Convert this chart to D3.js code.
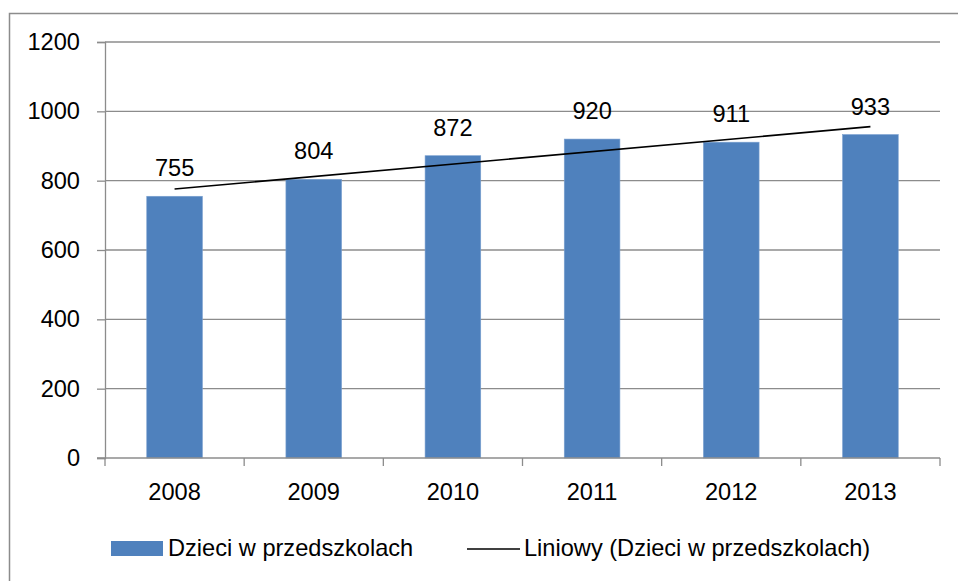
<!DOCTYPE html>
<html>
<head>
<meta charset="utf-8">
<script src="https://cdn.jsdelivr.net/npm/d3@7"></script>
<style>
  body { margin: 0; background: #fff; }
  text { font-family: "Liberation Sans", Arial, sans-serif; fill: #000; }
</style>
</head>
<body>
<svg id="chart" width="958" height="581"></svg>
<script>
// data
var years  = ["2008", "2009", "2010", "2011", "2012", "2013"];
var values = [755, 804, 872, 920, 911, 933];
var yTicks = [0, 200, 400, 600, 800, 1000, 1200];
var seriesName = "Dzieci w przedszkolach";
var trendName  = "Liniowy (Dzieci w przedszkolach)";

var svg = d3.select("#chart");
var plotL = 105, plotR = 940, plotT = 42, plotB = 458;
var gridCol = "#8c8c8c";
var fs = 23.6;

// outer frame (only top and left edges fall inside the picture)
svg.append("rect")
   .attr("x", 9.5).attr("y", 13.5)
   .attr("width", 960).attr("height", 600)
   .attr("fill", "none").attr("stroke", gridCol).attr("stroke-width", 1.5);

var x = d3.scaleBand().domain(years).range([plotL, plotR]).paddingInner(0.6).paddingOuter(0.3);
var y = d3.scaleLinear().domain([0, 1200]).range([plotB, plotT]);

// gridlines
svg.append("g").selectAll("line").data(yTicks.filter(function(d){ return d > 0; }))
   .enter().append("line")
   .attr("x1", plotL).attr("x2", plotR)
   .attr("y1", function(d){ return y(d); }).attr("y2", function(d){ return y(d); })
   .attr("stroke", gridCol).attr("stroke-width", 1.3);

// y axis
var yAxis = svg.append("g").attr("transform", "translate(" + plotL + ",0)")
   .call(d3.axisLeft(y).tickValues(yTicks).tickFormat(d3.format("d")).tickSize(8).tickPadding(17));
yAxis.attr("font-size", fs).attr("font-family", "Liberation Sans, Arial, sans-serif");
yAxis.select(".domain").attr("stroke", gridCol).attr("stroke-width", 1.3);
yAxis.selectAll(".tick line").attr("stroke", gridCol).attr("stroke-width", 1.3);
yAxis.selectAll(".tick text").attr("font-size", fs);

// bars
svg.append("g").selectAll("rect").data(values).enter().append("rect")
   .attr("x", function(d, i){ return x(years[i]); })
   .attr("y", function(d){ return y(d); })
   .attr("width", x.bandwidth())
   .attr("height", function(d){ return plotB - y(d); })
   .attr("fill", "#4f81bd")
   .attr("stroke", "#7aa0d0").attr("stroke-width", 0.6);

// x axis with ticks between categories
var step = x.step();
var xAxis = svg.append("g");
xAxis.append("line").attr("x1", plotL - 8).attr("x2", plotR)
   .attr("y1", plotB).attr("y2", plotB)
   .attr("stroke", gridCol).attr("stroke-width", 1.3);
xAxis.selectAll(".xt").data(d3.range(years.length + 1)).enter().append("line")
   .attr("x1", function(i){ return plotL + i * step; })
   .attr("x2", function(i){ return plotL + i * step; })
   .attr("y1", plotB).attr("y2", plotB + 8)
   .attr("stroke", gridCol).attr("stroke-width", 1.3);
xAxis.selectAll("text").data(years).enter().append("text")
   .attr("x", function(d){ return x(d) + x.bandwidth() / 2; })
   .attr("y", 500)
   .attr("text-anchor", "middle").attr("font-size", fs)
   .text(function(d){ return d; });

// linear trend (least squares on the series)
var idx = d3.range(values.length);
var mx = d3.mean(idx), my = d3.mean(values);
var slope = d3.sum(idx, function(i){ return (i - mx) * (values[i] - my); }) /
            d3.sum(idx, function(i){ return (i - mx) * (i - mx); });
var icpt = my - slope * mx;
var cx = function(i){ return x(years[i]) + x.bandwidth() / 2; };
svg.append("line")
   .attr("x1", cx(0)).attr("y1", y(icpt))
   .attr("x2", cx(values.length - 1)).attr("y2", y(icpt + slope * (values.length - 1)))
   .attr("stroke", "#000").attr("stroke-width", 1.6);

// data labels
svg.append("g").selectAll("text").data(values).enter().append("text")
   .attr("x", function(d, i){ return cx(i); })
   .attr("y", function(d){ return y(d) - 20; })
   .attr("text-anchor", "middle").attr("font-size", fs)
   .text(function(d){ return d; });

// legend
var lg = svg.append("g");
lg.append("rect").attr("x", 111).attr("y", 541).attr("width", 52).attr("height", 15).attr("fill", "#4f81bd");
lg.append("text").attr("x", 168).attr("y", 556).attr("font-size", fs).text(seriesName);
lg.append("line").attr("x1", 467).attr("x2", 520).attr("y1", 549).attr("y2", 549)
   .attr("stroke", "#000").attr("stroke-width", 1.6);
lg.append("text").attr("x", 524).attr("y", 556).attr("font-size", fs).text(trendName);
</script>
</body>
</html>
